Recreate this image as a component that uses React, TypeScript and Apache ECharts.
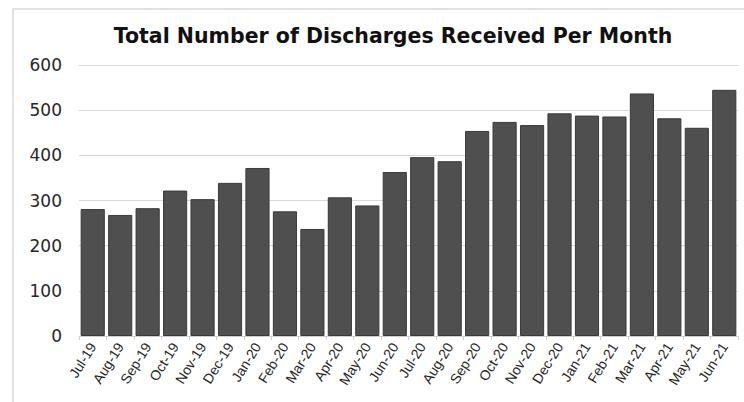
import React, { useEffect, useRef } from "react";
import * as echarts from "echarts";

const months = [
  "Jul-19", "Aug-19", "Sep-19", "Oct-19", "Nov-19", "Dec-19",
  "Jan-20", "Feb-20", "Mar-20", "Apr-20", "May-20", "Jun-20",
  "Jul-20", "Aug-20", "Sep-20", "Oct-20", "Nov-20", "Dec-20",
  "Jan-21", "Feb-21", "Mar-21", "Apr-21", "May-21", "Jun-21",
];
const discharges = [
  281, 268, 283, 322, 303, 339,
  372, 276, 237, 307, 289, 363,
  396, 387, 454, 474, 467, 493,
  488, 486, 537, 482, 461, 545,
];
const titleText = "Total Number of Discharges Received Per Month";

export default function App() {
  const ref = useRef<HTMLDivElement>(null);
  useEffect(() => {
    const chart = echarts.init(ref.current!, null, { renderer: "svg" });
    chart.setOption({
      animation: false,
      backgroundColor: "#ffffff",
      title: {
        text: titleText,
        left: 388,
        textAlign: "center",
        top: 20,
        textStyle: {
          fontFamily: "DejaVu Sans, sans-serif",
          fontWeight: "bold",
          fontSize: 20.5,
          color: "#111111",
        },
      },
      graphic: [
        {
          type: "rect",
          shape: { x: 13, y: 9, width: 800, height: 500 },
          style: { fill: "none", stroke: "#d8d8d8", lineWidth: 1.5 },
          silent: true,
        },
      ],
      grid: { left: 79, right: 6, top: 65, bottom: 66, containLabel: false },
      xAxis: {
        type: "category",
        data: months,
        axisLine: { show: true, lineStyle: { color: "#d0d0d0", width: 1 } },
        axisTick: { show: true, alignWithLabel: false, length: 4, lineStyle: { color: "#d0d0d0" } },
        axisLabel: {
          interval: 0,
          rotate: 58,
          fontFamily: "Liberation Sans, Arial, sans-serif",
          fontSize: 14,
          color: "#262626",
          margin: 8,
        },
      },
      yAxis: {
        type: "value",
        min: 0,
        max: 600,
        interval: 100,
        axisLine: { show: false },
        axisTick: { show: false },
        splitLine: { lineStyle: { color: "#d9d9d9", width: 1 } },
        axisLabel: {
          fontFamily: "DejaVu Sans, sans-serif",
          fontSize: 17,
          color: "#262626",
          margin: 17,
        },
      },
      series: [
        {
          type: "bar",
          data: discharges,
          barCategoryGap: "12%",
          itemStyle: { color: "#4f4f4f", borderColor: "#3a3a3a", borderWidth: 1 },
        },
      ],
    });
    return () => chart.dispose();
  }, []);
  return <div ref={ref} style={{ width: 744, height: 402, position: "absolute", left: 0, top: 0 }} />;
}
